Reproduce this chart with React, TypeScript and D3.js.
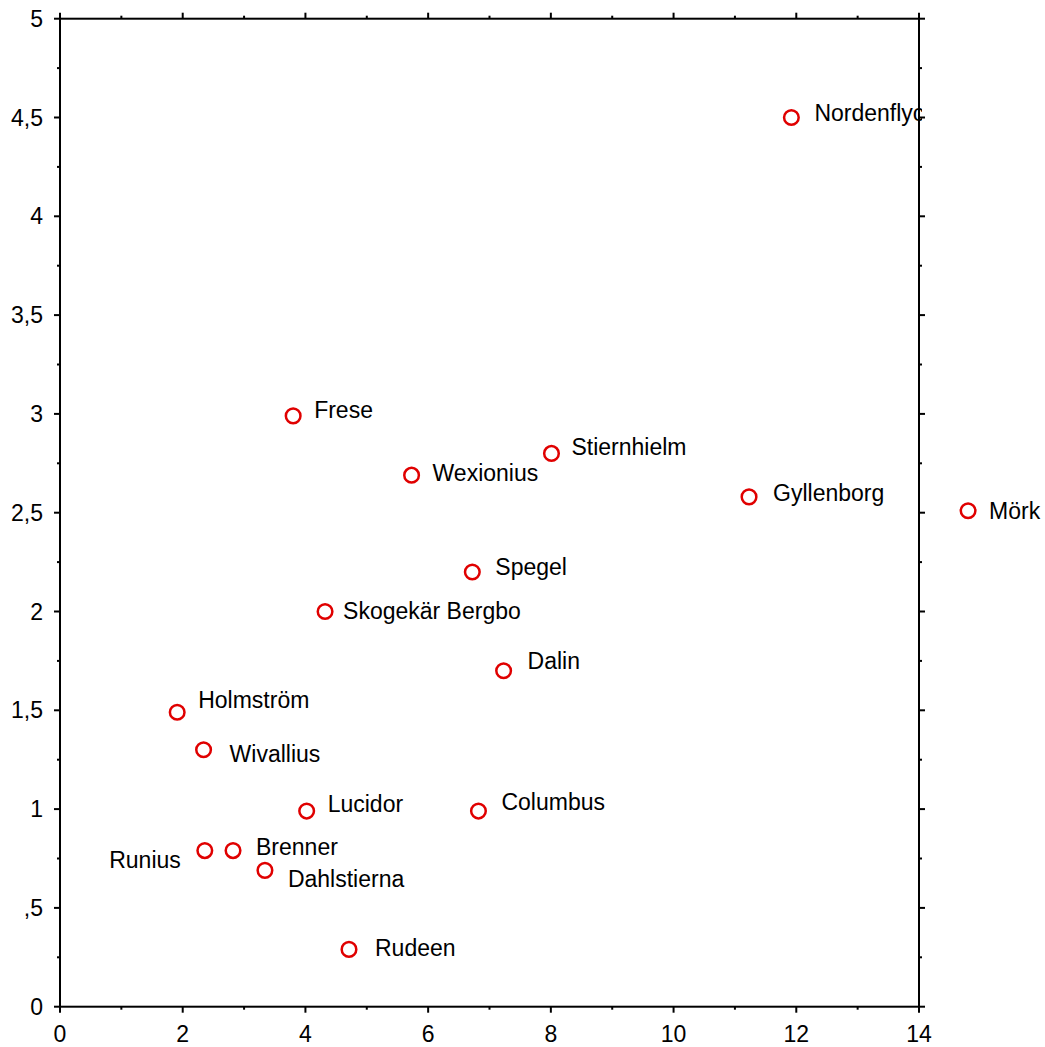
import React from "react";
import * as d3 from "d3";

const names = ["Nordenflycht", "Frese", "Stiernhielm", "Wexionius", "Gyllenborg", "Mörk", "Spegel", "Skogekär Bergbo", "Dalin", "Holmström", "Wivallius", "Lucidor", "Columbus", "Runius", "Brenner", "Dahlstierna", "Rudeen"];
const xValues = [11.92, 3.80, 8.01, 5.73, 11.23, 14.80, 6.72, 4.32, 7.23, 1.91, 2.34, 4.02, 6.82, 2.36, 2.82, 3.34, 4.71];
const yValues = [4.50, 2.99, 2.80, 2.69, 2.58, 2.51, 2.20, 2.00, 1.70, 1.49, 1.30, 0.99, 0.99, 0.79, 0.79, 0.69, 0.29];
// label offsets relative to the point (px): [dx, dy, anchor]
const labelOffsets: [number, number, string][] = [
  [23, -5, "start"], [21, -6, "start"], [20, -6, "start"], [21, -2, "start"], [24, -4, "start"],
  [21, 0, "start"], [23, -5, "start"], [18, -1, "start"], [24, -10, "start"], [21, -12, "start"],
  [26, 4, "start"], [21, -7, "start"], [23, -9, "start"], [-24, 9, "end"], [23, -4, "start"],
  [23, 9, "start"], [26, -1, "start"],
];
const xTicks = [0, 2, 4, 6, 8, 10, 12, 14];
const xMinorTicks = [1, 3, 5, 7, 9, 11, 13];
const yTicks = [0, 0.5, 1, 1.5, 2, 2.5, 3, 3.5, 4, 4.5, 5];
const yTickLabels = ["0", ",5", "1", "1,5", "2", "2,5", "3", "3,5", "4", "4,5", "5"];
const yMinorTicks = [0.25, 0.75, 1.25, 1.75, 2.25, 2.75, 3.25, 3.75, 4.25, 4.75];

const W = 1045, H = 1047;
const left = 60, right = 919, top = 18.7, bottom = 1006.7;
const font = "'Liberation Sans', Arial, sans-serif";
const fs = 23;

export default function App() {
  const x = d3.scaleLinear().domain([0, 14]).range([left, right]);
  const y = d3.scaleLinear().domain([0, 5]).range([bottom, top]);
  const red = "#e00000";
  return (
    <svg width={W} height={H} style={{ position: "absolute", left: 0, top: 0, background: "#fff" }} fontFamily={font}>
      <defs>
        <clipPath id="clipR">
          <rect x={0} y={0} width={right + 3} height={H} />
        </clipPath>
      </defs>
      <rect x={0} y={0} width={W} height={H} fill="#fff" />
      <rect x={left} y={top} width={right - left} height={bottom - top} fill="none" stroke="#000" strokeWidth={2} />
      {xTicks.map((t) => (
        <g key={"xt" + t}>
          <line x1={x(t)} x2={x(t)} y1={bottom} y2={bottom + 6} stroke="#000" strokeWidth={2} />
          <line x1={x(t)} x2={x(t)} y1={top} y2={top - 6} stroke="#000" strokeWidth={2} />
          <text x={x(t)} y={bottom + 35} fontSize={fs} textAnchor="middle" fill="#000">{t}</text>
        </g>
      ))}
      {xMinorTicks.map((t) => (
        <g key={"xm" + t}>
          <line x1={x(t)} x2={x(t)} y1={bottom} y2={bottom + 3} stroke="#000" strokeWidth={2} />
          <line x1={x(t)} x2={x(t)} y1={top} y2={top - 3} stroke="#000" strokeWidth={2} />
        </g>
      ))}
      {yTicks.map((t, i) => (
        <g key={"yt" + t}>
          <line x1={left} x2={left - 6} y1={y(t)} y2={y(t)} stroke="#000" strokeWidth={2} />
          <line x1={right} x2={right + 6} y1={y(t)} y2={y(t)} stroke="#000" strokeWidth={2} />
          <text x={left - 17} y={y(t) + 8} fontSize={fs} textAnchor="end" fill="#000">{yTickLabels[i]}</text>
        </g>
      ))}
      {yMinorTicks.map((t) => (
        <g key={"ym" + t}>
          <line x1={left} x2={left - 3} y1={y(t)} y2={y(t)} stroke="#000" strokeWidth={2} />
          <line x1={right} x2={right + 3} y1={y(t)} y2={y(t)} stroke="#000" strokeWidth={2} />
        </g>
      ))}
      {names.map((n, i) => {
        const cx = x(xValues[i]);
        const cy = y(yValues[i]);
        const [dx, dy, anchor] = labelOffsets[i];
        const clip = cx < right ? "url(#clipR)" : undefined;
        return (
          <g key={n}>
            <circle cx={cx} cy={cy} r={7.3} fill="none" stroke={red} strokeWidth={2.5} />
            <text x={cx + dx} y={cy + dy + 8} fontSize={fs} textAnchor={anchor as any} fill="#000" clipPath={clip}>{n}</text>
          </g>
        );
      })}
    </svg>
  );
}
